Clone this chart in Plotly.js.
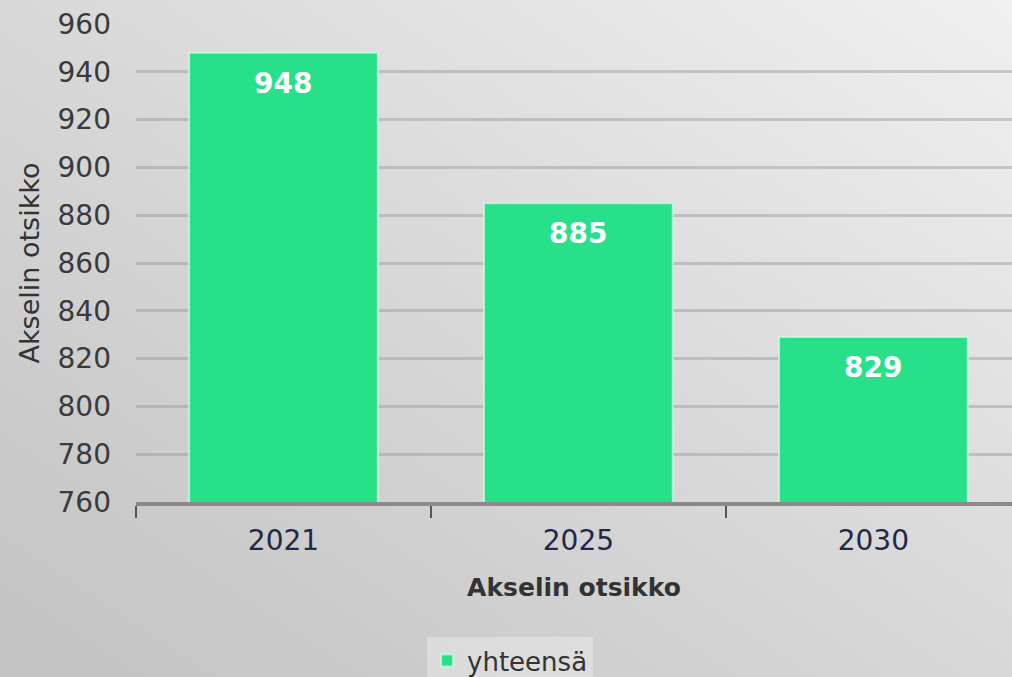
<!DOCTYPE html>
<html>
<head>
<meta charset="utf-8">
<script src="https://cdn.plot.ly/plotly-3.0.1.min.js"></script>
<style>
html,body{margin:0;padding:0;}
#chart{width:1012px;height:677px;background:linear-gradient(to top right,#c2c2c2 0%,#d8d8d8 50%,#f0f0f0 100%);}
</style>
</head>
<body>
<div id="chart"></div>
<script>
const years = ['2021', '2025', '2030'];
const totals = [948, 885, 829];
const seriesName = 'yhteensä';
const yTicks = [760, 780, 800, 820, 840, 860, 880, 900, 920, 940, 960];
const axisTitle = 'Akselin otsikko';

const font = 'DejaVu Sans, Verdana, sans-serif';

const trace = {
  type: 'bar',
  x: years,
  y: totals,
  name: seriesName,
  marker: {color: 'rgba(34,224,134,0.97)', line: {color: 'rgba(215,250,230,0.7)', width: 2}},
  hoverinfo: 'none'
};

// category index i positions each label on its bar via the axis scale
const annotations = totals.map((v, i) => ({
  x: i, y: v, xref: 'x', yref: 'y',
  text: String(v), showarrow: false,
  yanchor: 'top', yshift: -12,
  font: {family: font, size: 28, color: '#ffffff', weight: 'bold'}
}));

const layout = {
  width: 1012, height: 677,
  paper_bgcolor: 'rgba(0,0,0,0)',
  plot_bgcolor: 'rgba(0,0,0,0)',
  margin: {l: 136, r: 0, t: 24, b: 175},
  bargap: 0.36,
  showlegend: true,
  xaxis: {
    type: 'category',
    automargin: false,
    range: [-0.5, 2.47],
    tickson: 'boundaries',
    ticks: 'outside', ticklen: 12, tickwidth: 2, tickcolor: '#555',
    ticklabelstandoff: 10,
    showline: true, linecolor: '#8a8a8a', linewidth: 4,
    showgrid: false,
    tickfont: {family: font, size: 28, color: '#22284a'},
    title: {text: axisTitle, font: {family: font, size: 25, color: '#333', weight: 'bold'}, standoff: 24}
  },
  yaxis: {
    automargin: false,
    range: [760, 960],
    tickvals: yTicks,
    ticktext: yTicks.map(String),
    showline: false, zeroline: false,
    showgrid: true, gridcolor: 'rgba(150,150,150,0.45)', gridwidth: 3,
    ticks: '', ticklabelstandoff: 24,
    tickfont: {family: font, size: 28, color: '#3a3a3a'},
    title: {text: axisTitle, font: {family: font, size: 27, color: '#333'}, standoff: 10}
  },
  legend: {
    orientation: 'h', x: 0.427, xanchor: 'center',
    yref: 'container', y: 0.059, yanchor: 'top',
    bgcolor: 'rgba(255,255,255,0.3)',
    font: {family: font, size: 26, color: '#333'},
    itemwidth: 30
  },
  annotations: annotations
};

Plotly.newPlot('chart', [trace], layout, {displayModeBar: false, staticPlot: true});
</script>
</body>
</html>
